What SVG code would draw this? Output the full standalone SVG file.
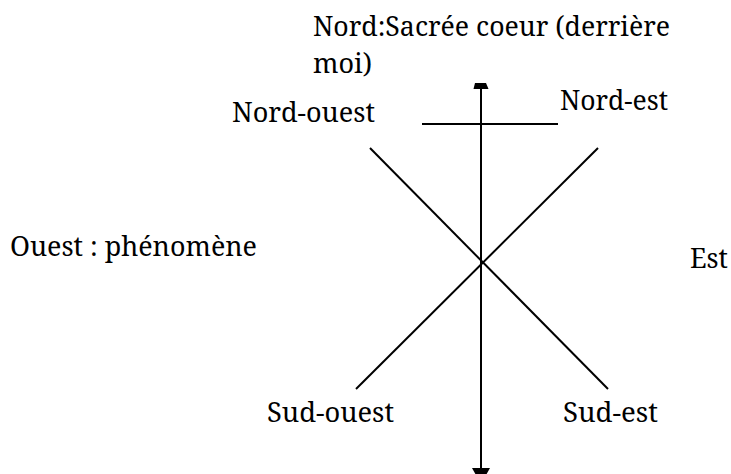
<svg xmlns="http://www.w3.org/2000/svg" width="731" height="474" viewBox="0 0 731 474">
<style>
.t{font-family:"Noto Serif","DejaVu Serif","Liberation Serif",serif;font-size:27px;fill:#000}
.l{stroke:#000;stroke-width:2;fill:none}
</style>
<rect width="731" height="474" fill="#fff"/>
<g id="connectors">
<line class="l" x1="481" y1="86" x2="481" y2="468"/>
<polygon points="475,83 486,83 488.5,89 473.5,89" fill="#000"/>
<polygon points="472,468 490,468 481,484" fill="#000"/>
<line class="l" x1="422" y1="124" x2="558" y2="124"/>
<line class="l" x1="370" y1="148" x2="608" y2="389"/>
<line class="l" x1="598" y1="148" x2="356" y2="389"/>
</g>
<g id="nord"><text class="t" x="313" y="36" textLength="357" lengthAdjust="spacingAndGlyphs">Nord:Sacrée coeur (derrière</text><text class="t" x="313" y="73" textLength="59" lengthAdjust="spacingAndGlyphs">moi)</text></g>
<g id="nord-ouest"><text class="t" x="232" y="122" textLength="143" lengthAdjust="spacingAndGlyphs">Nord-ouest</text></g>
<g id="nord-est"><text class="t" x="560" y="110" textLength="108" lengthAdjust="spacingAndGlyphs">Nord-est</text></g>
<g id="ouest"><text class="t" x="10" y="256" textLength="247" lengthAdjust="spacingAndGlyphs">Ouest : phénomène</text></g>
<g id="est"><text class="t" x="690" y="268" textLength="38" lengthAdjust="spacingAndGlyphs">Est</text></g>
<g id="sud-ouest"><text class="t" x="267" y="422" textLength="127" lengthAdjust="spacingAndGlyphs">Sud-ouest</text></g>
<g id="sud-est"><text class="t" x="563" y="422" textLength="95" lengthAdjust="spacingAndGlyphs">Sud-est</text></g>
</svg>
